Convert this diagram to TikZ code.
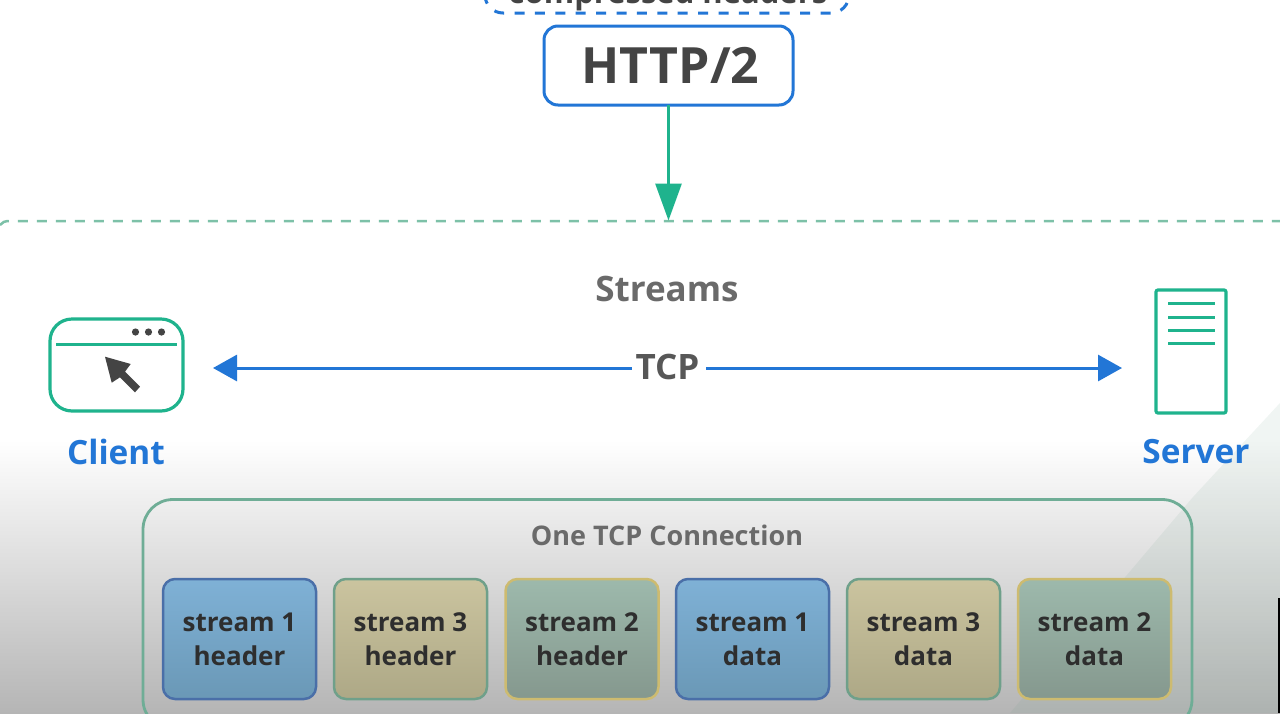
\documentclass[tikz,border=0pt]{standalone}
\usepackage{fontspec}
\setmainfont{Open Sans}[BoldFont={Open Sans Bold}]
\usetikzlibrary{arrows.meta,calc}
\definecolor{ink}{HTML}{444444}
\definecolor{midink}{HTML}{6A6A6A}
\definecolor{blueline}{HTML}{2276D6}
\definecolor{greenline}{HTML}{1FB38D}
\definecolor{dashgreen}{HTML}{7DC1A8}
\definecolor{contline}{HTML}{6FAD96}
\tikzset{
  stream/.style={draw,line width=1.25pt,rounded corners=6pt,minimum width=76.5pt,minimum height=60pt,
    outer sep=0pt,inner sep=0pt,align=center,text=black!82,font=\fontsize{13}{17}\selectfont\bfseries},
  sblue/.style={stream,draw=HTMLa,top color=HTMLb,bottom color=HTMLc},
  stan/.style={stream,draw=HTMLd,top color=HTMLe,bottom color=HTMLf},
  sgreen/.style={stream,draw=HTMLg,top color=HTMLh,bottom color=HTMLi},
  icon/.style={draw=greenline,line width=1.6pt,outer sep=0pt,inner sep=0pt},
  iconline/.style={draw=greenline,line width=1.5pt},
  label/.style={text=blueline,font=\fontsize{16.7}{20}\selectfont\bfseries,inner sep=0pt},
  bluearrow/.style={draw=blueline,line width=1.5pt,-{Triangle[length=12pt,width=13pt]}},
  greenarrow/.style={draw=greenline,line width=1.5pt,-{Triangle[length=18.5pt,width=13pt]}},
}
\definecolor{HTMLa}{HTML}{4A6FA8}
\definecolor{HTMLb}{HTML}{7FB1D6}
\definecolor{HTMLc}{HTML}{6A98B6}
\definecolor{HTMLd}{HTML}{6FA08A}
\definecolor{HTMLe}{HTML}{CBC49F}
\definecolor{HTMLf}{HTML}{ADA886}
\definecolor{HTMLg}{HTML}{CDBB70}
\definecolor{HTMLh}{HTML}{9DB9AC}
\definecolor{HTMLi}{HTML}{85988E}
\begin{document}
\begin{tikzpicture}[x=0.5pt,y=-0.5pt]
\useasboundingbox (0,0) rectangle (1280,713);
\clip (0,0) rectangle (1280,713);
% background
\fill[white] (0,0) rectangle (1280,713);
\shade[top color=white,middle color=black!9,bottom color=black!29] (0,440) rectangle (1280,713);
\fill[HTMLd,opacity=0.10] (1280,403) -- (1193,497) -- (1010,713) -- (1280,713) -- cycle;
\fill[black] (1278,598) rectangle (1280,713);
% top
\node[draw=blueline,line width=1.5pt,dash pattern=on 5pt off 5.2pt,rounded corners=9pt,
  minimum width=182pt,minimum height=24pt,outer sep=0pt,inner sep=0pt] (comp) at (667,-11) {};
\node[anchor=base,inner sep=0pt,text=ink,font=\fontsize{15.5}{18}\selectfont\bfseries] (comptext) at (668,3) {compressed headers};
\node[draw=blueline,fill=white,line width=1.5pt,rounded corners=7pt,minimum width=124.5pt,minimum height=39.5pt,
  outer sep=0pt,inner sep=0pt,text=ink,font=\fontsize{25}{28}\selectfont\bfseries] (http) at (668.5,65.5) {\hspace{2pt}HTTP/2};
\coordinate (dashL) at (0,225);
\coordinate (dashR) at (1280,221);
\coordinate (tip) at (668.5,220.5);
\draw[dashgreen,line width=1.25pt,dash pattern=on 5pt off 4.5pt] (dashL) .. controls (2,222) and (5,221) .. (10,221) -- (dashR);
\draw[greenarrow] (http.south) -- (tip);
% middle
\node[text=midink,font=\fontsize{17.5}{20}\selectfont\bfseries,inner sep=0pt] (streams) at (667,289) {Streams};
\node[icon,rounded corners=11pt,minimum width=66.5pt,minimum height=46pt] (client) at (116.5,365) {};
\draw[iconline] (56,344) -- (177,344);
\foreach \x in {135.5,148.5,161.5} \fill[ink] (\x,332) circle (1.8pt);
\fill[ink] (105,356.7) -- (130.7,364) -- (125,371.7) -- (140,386.7) -- (135,392.3) -- (120,377.3) -- (111.7,382.7) -- cycle;
\node[icon,rounded corners=1pt,minimum width=35pt,minimum height=61.5pt] (server) at (1191,351.5) {};
\foreach \y in {303.5,317,330,343.5} \draw[iconline] (1168,\y) -- (1215,\y);
\node[text=ink!90,font=\fontsize{17.5}{20}\selectfont\bfseries,inner sep=0pt,minimum width=37pt,minimum height=14pt] (tcp) at (669,367) {\hspace{-1.5pt}TCP};
\coordinate (tcpanchor) at (669,368);
\draw[bluearrow,shorten >=15pt] (tcp.west |- tcpanchor) -- (tcpanchor -| client.east);
\draw[bluearrow,shorten >=17pt] (tcp.east |- tcpanchor) -- (tcpanchor -| server.west);
\node[label] (clientl) at (116,452) {Client};
\node[label] (serverl) at (1196,452) {Server};
% connection
\node[draw=contline,line width=1.4pt,rounded corners=15pt,minimum width=524.5pt,minimum height=115pt,outer sep=0pt,inner sep=0pt] (conn) at (667.5,614.5) {};
\node[text=midink,font=\fontsize{13.5}{16}\selectfont\bfseries,inner sep=0pt] (conntitle) at (667,535) {One TCP Connection};
\node[sblue]  (h1) at (239.5,639) {stream 1\\header};
\node[stan]   (h3) at (410.5,639) {stream 3\\header};
\node[sgreen] (h2) at (582,639)   {stream 2\\header};
\node[sblue]  (d1) at (752.5,639) {stream 1\\data};
\node[stan]   (d3) at (923.5,639) {stream 3\\data};
\node[sgreen] (d2) at (1094.5,639){stream 2\\data};
\end{tikzpicture}
\end{document}
